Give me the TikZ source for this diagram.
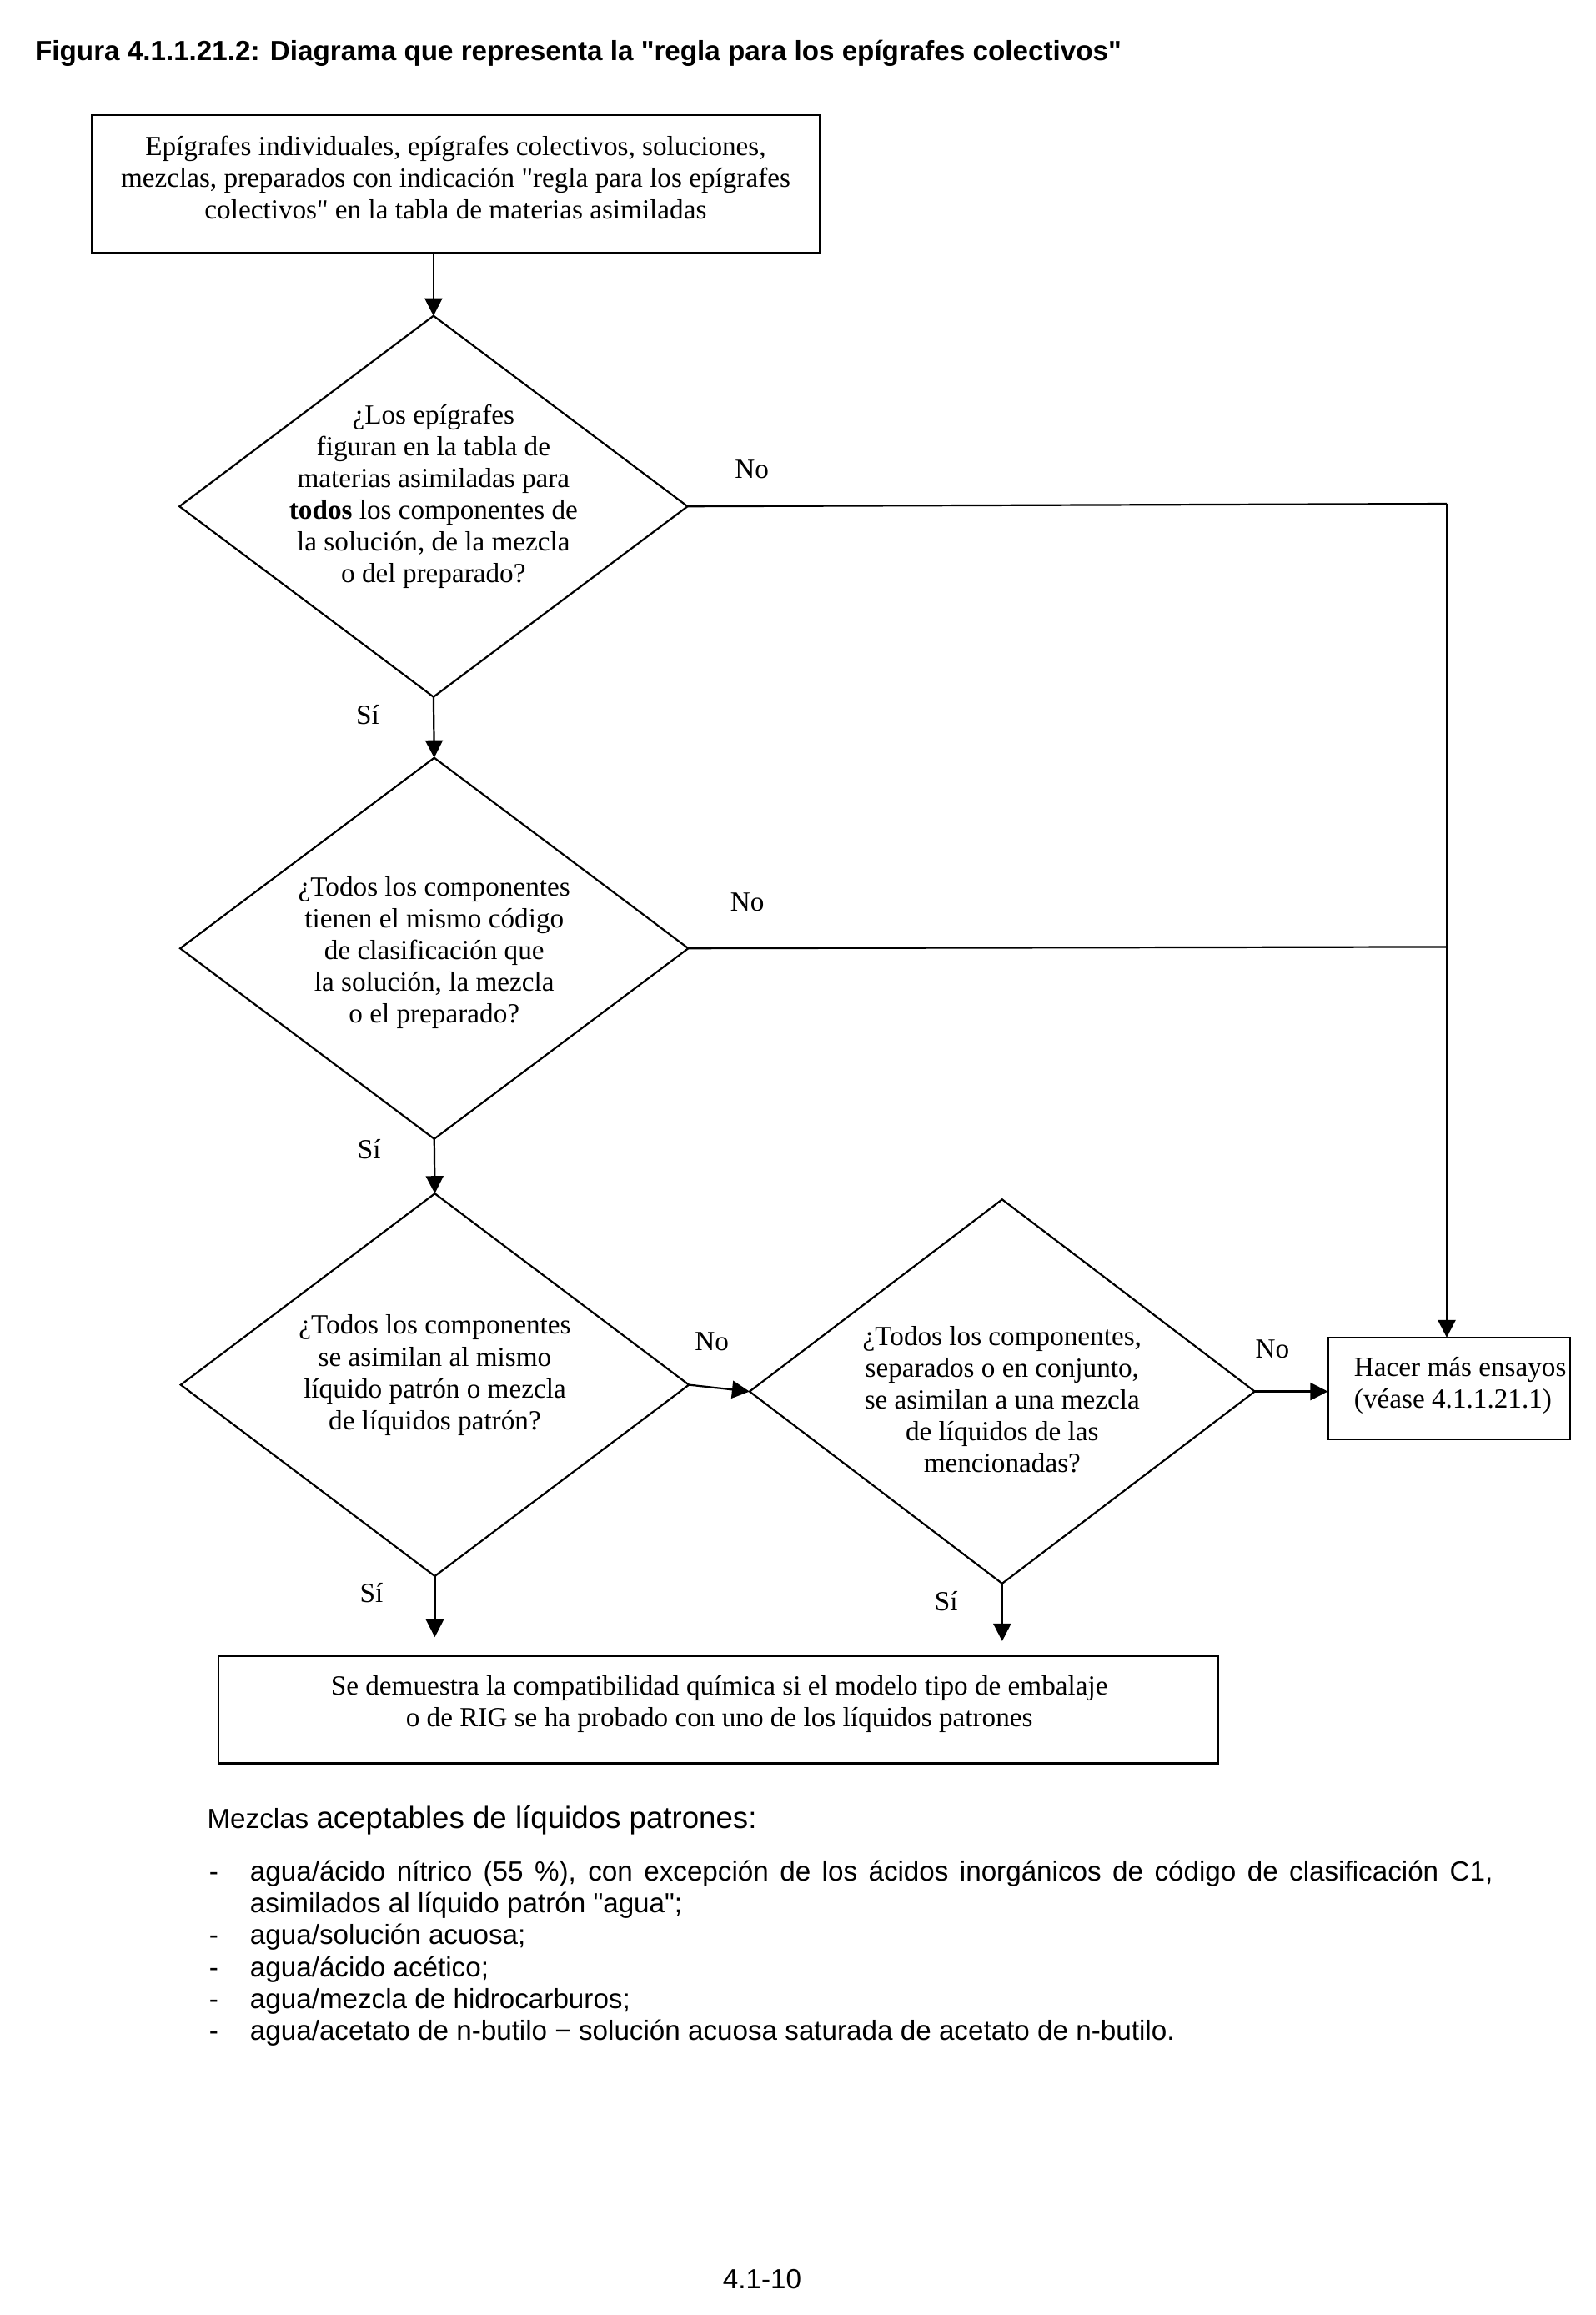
\documentclass[tikz,border=0pt]{standalone}
\usepackage{fontspec}
\setmainfont{Liberation Serif}[Ligatures=TeXOff]
\newfontfamily\arialf{Liberation Sans}[Ligatures=TeXOff]
\usetikzlibrary{shapes.geometric,arrows.meta,calc}
\newcommand\tnr{\fontsize{12pt}{13.76pt}\selectfont}
\newcommand\arl{\arialf\fontsize{12pt}{13.76pt}\selectfont}
\begin{document}
\begin{tikzpicture}[x=0.64pt,y=-0.64pt,
  shp/.style={draw,line width=0.8pt},
  dia/.style={shp,diamond,inner sep=0pt,outer sep=0pt},
  rbox/.style={shp,rectangle,inner sep=0pt,outer sep=0pt},
  txt/.style={align=center,font=\tnr,inner sep=0pt},
  lbl/.style={font=\tnr,inner sep=0pt},
  lst/.style={font=\arl,inner sep=0pt,anchor=base west},
  arr/.style={line width=0.8pt,-{Triangle[length=7.6pt,width=7.6pt]}},
  cn/.style={line width=0.8pt}]
\fill[white] (0,0) rectangle (1080,1567.2);
\useasboundingbox (0,0) rectangle (1080,1567.2);

% title
\node[anchor=base west,inner sep=0pt,font={\arialf\bfseries\fontsize{12pt}{14pt}\selectfont}] (title) at (23.5,40.8)
  {Figura 4.1.1.21.2: Diagrama que representa la "regla para los epígrafes colectivos"};

% top box
\node[rbox,minimum width=315.52pt,minimum height=59.52pt] (b1) at (308.5,124.5) {};
\node[txt] (b1t) at (308.5,120) {Epígrafes individuales, epígrafes colectivos, soluciones,\\mezclas, preparados con indicación "regla para los epígrafes\\colectivos" en la tabla de materias asimiladas};

% diamonds
\node[dia,minimum width=220.16pt,minimum height=165.12pt] (d1) at (293.5,342.8) {};
\node[txt] (d1t) at (293.5,336) {¿Los epígrafes\\figuran en la tabla de\\materias asimiladas para\\\textbf{todos} los componentes de\\la solución, de la mezcla\\o del preparado?};

\node[dia,minimum width=220.16pt,minimum height=165.12pt] (d2) at (294,642) {};
\node[txt] (d2t) at (294,645) {¿Todos los componentes\\tienen el mismo código\\de clasificación que\\la solución, la mezcla\\o el preparado?};

\node[dia,minimum width=220.16pt,minimum height=165.76pt] (d3) at (294.4,937.5) {};
\node[txt] (d3t) at (294.4,931) {¿Todos los componentes\\se asimilan al mismo\\líquido patrón o mezcla\\de líquidos patrón?};

\node[dia,minimum width=218.88pt,minimum height=166.4pt] (d4) at (678.5,942) {};
\node[txt] (d4t) at (678.5,947.3) {¿Todos los componentes,\\separados o en conjunto,\\se asimilan a una mezcla\\de líquidos de las\\mencionadas?};

% side box
\node[rbox,minimum width=104.96pt,minimum height=44.16pt] (hb) at (981,940) {};
\node[txt,align=left,anchor=west] (hbt) at (916.5,938) {Hacer más ensayos\\(véase 4.1.1.21.1)};

% bottom box
\node[rbox,minimum width=433pt,minimum height=46.53pt] (b2) at (486.3,1157.4) {};
\node[txt] (b2t) at (487,1153.5) {Se demuestra la compatibilidad química si el modelo tipo de embalaje\\o de RIG se ha probado con uno de los líquidos patrones};

% connectors
\draw[arr] (d1.north |- b1.south) -- (d1.north);
\draw[arr] (d1.south) -- (d2.north);
\draw[arr] (d2.south) -- (d3.north);
\coordinate (c1) at (979.5,341);
\coordinate (c2) at (979.5,641);
\draw[cn] (d1.east) -- (c1);
\draw[cn] (d2.east) -- (c2);
\draw[arr] (c1) -- (c1 |- hb.north);
\draw[arr] (d3.east) -- (d4.west);
\draw[arr] (d4.east) -- (hb.west |- d4.east);
\coordinate (e3) at (294.4,1108.3);
\coordinate (e4) at (678.5,1111);
\draw[arr] (d3.south) -- (e3);
\draw[arr] (d4.south) -- (e4);

% labels
\node[lbl] (l1) at (509,318) {No};
\node[lbl] (l2) at (249,484) {Sí};
\node[lbl] (l3) at (506,611) {No};
\node[lbl] (l4) at (250,778) {Sí};
\node[lbl] (l5) at (482,908) {No};
\node[lbl] (l6) at (861.5,913.5) {No};
\node[lbl] (l7) at (251.5,1078.5) {Sí};
\node[lbl] (l8) at (640.6,1084) {Sí};

% bottom text
\node[anchor=base west,inner sep=0pt] (mz) at (140,1238) {{\arialf\fontsize{12pt}{14pt}\selectfont Mezclas\ }{\arialf\fontsize{13.25pt}{15pt}\selectfont aceptables de líquidos patrones:}};

\node[lst] (dash1) at (141.3,1273.5) {-};
\node[lst] (i1a) at (169,1273.5) {\makebox[538.6pt][s]{agua/ácido nítrico (55~\%), con excepción de los ácidos inorgánicos de código de clasificación C1,}};
\node[lst] (i1b) at (169,1295) {asimilados al líquido patrón "agua";};
\node[lst] (dash2) at (141.3,1316.5) {-};
\node[lst] (i2) at (169,1316.5) {agua/solución acuosa;};
\node[lst] (dash3) at (141.3,1338) {-};
\node[lst] (i3) at (169,1338) {agua/ácido acético;};
\node[lst] (dash4) at (141.3,1359.5) {-};
\node[lst] (i4) at (169,1359.5) {agua/mezcla de hidrocarburos;};
\node[lst] (dash5) at (141.3,1381) {-};
\node[lst] (i5) at (169,1381) {agua/acetato de n-butilo − solución acuosa saturada de acetato de n-butilo.};

\node[inner sep=0pt,font=\arl] (pg) at (516,1543) {4.1-10};
\end{tikzpicture}
\end{document}
